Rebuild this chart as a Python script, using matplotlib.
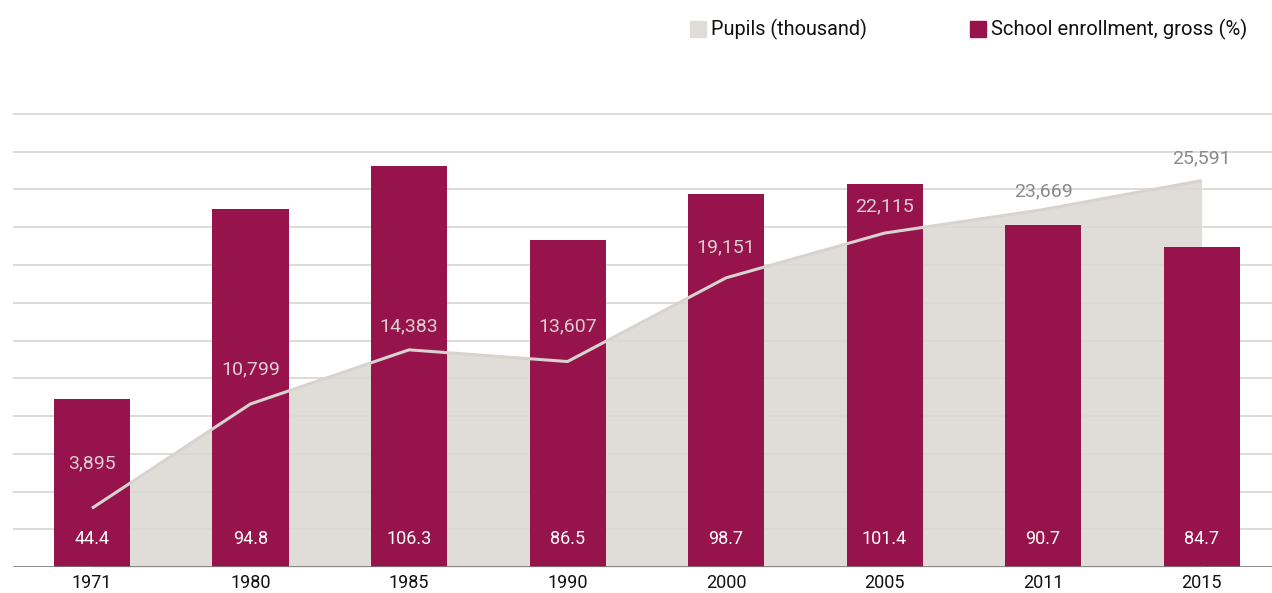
import matplotlib.pyplot as plt
from matplotlib.patches import Rectangle

# Dados
years = ['1971', '1980', '1985', '1990', '2000', '2005', '2011', '2015']
enrollment = [44.4, 94.8, 106.3, 86.5, 98.7, 101.4, 90.7, 84.7]
pupils = [3895, 10799, 14383, 13607, 19151, 22115, 23669, 25591]

# deslocamento vertical (em pontos) dos rótulos da área
label_offsets = [32, 25, 17, 25, 22, 19, 13, 16]

plt.rcParams['font.family'] = ['Roboto', 'DejaVu Sans']

bar_color = '#96144B'
area_color = '#E0DDD8'
line_color = '#D8D3CE'
grid_color = '#DCD8D3'

fig = plt.figure(figsize=(12.72, 5.93), dpi=100)
rect = [0.010, 0.0438, 0.997, 0.7958]
x = list(range(len(years)))

# Eixo de fundo: área dos alunos
ax_area = fig.add_axes(rect)
ax_area.fill_between(x, pupils, 0, color=area_color, linewidth=0)
ax_area.set_ylim(0, 31250)

# Eixo do meio: grade e barras
ax_bar = fig.add_axes(rect)
ax_bar.patch.set_alpha(0)
for v in range(10, 121, 10):
    ax_bar.axhline(v, color=grid_color, linewidth=1.3, zorder=1)
ax_bar.bar(x, enrollment, width=0.48, color=bar_color, zorder=2)
ax_bar.set_ylim(0, 125)
ax_bar.axhline(0, color='#777777', linewidth=1.2, zorder=3)
for i, v in enumerate(enrollment):
    ax_bar.text(i, 7.4, f'{v:.1f}', ha='center', va='center', color='white',
                fontsize=13, zorder=4)

# Eixo de cima: linha dos alunos e rótulos
ax_line = fig.add_axes(rect)
ax_line.patch.set_alpha(0)
ax_line.plot(x, pupils, color=line_color, linewidth=2.2, solid_capstyle='butt')
ax_line.set_ylim(0, 31250)
for i, v in enumerate(pupils):
    inside = v * 125 / 31250 < enrollment[i]
    ax_line.annotate(f'{v:,}', (i, v), xytext=(0, label_offsets[i]),
                     textcoords='offset points', ha='center', va='center',
                     color='#DACFD0' if inside else '#8A8A8A', fontsize=14)

for a in (ax_area, ax_bar, ax_line):
    a.set_xlim(-0.5, 7.5)
    for s in a.spines.values():
        s.set_visible(False)
    a.set_yticks([])
    a.set_xticks([])

ax_bar.set_xticks(x)
ax_bar.set_xticklabels(years, fontsize=13, color='#111111')
ax_bar.tick_params(axis='x', length=0, pad=5)

# Legenda
fig.patches.append(Rectangle((690 / 1272, 1 - 37 / 593), 16 / 1272, 16 / 593,
                             transform=fig.transFigure, color=area_color))
fig.text(711 / 1272, 1 - 29 / 593, 'Pupils (thousand)', fontsize=14.3,
         va='center', color='#111111')
fig.patches.append(Rectangle((970 / 1272, 1 - 37 / 593), 16 / 1272, 16 / 593,
                             transform=fig.transFigure, color=bar_color))
fig.text(991 / 1272, 1 - 29 / 593, 'School enrollment, gross (%)', fontsize=14.6,
         va='center', color='#111111')

fig.savefig('out.png', dpi=100)
